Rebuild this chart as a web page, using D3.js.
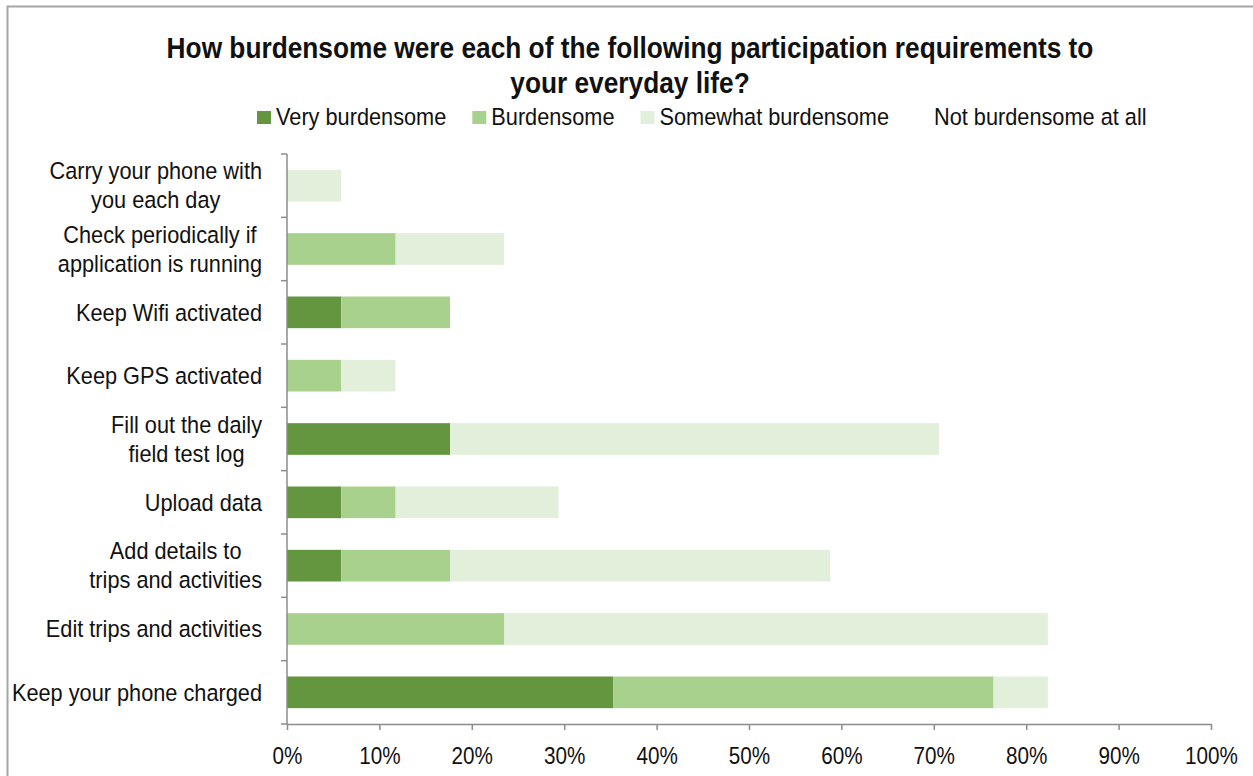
<!DOCTYPE html>
<html>
<head>
<meta charset="utf-8">
<script src="https://cdn.jsdelivr.net/npm/d3@7"></script>
<style>
  html, body { margin: 0; padding: 0; background: #fff; }
  svg { display: block; }
  text { font-family: "Liberation Sans", Arial, sans-serif; fill: #111; }
</style>
</head>
<body>
<svg id="chart" width="1253" height="776"></svg>
<script>
// Participation requirements, top to bottom
const categories = [
  "Carry your phone with\nyou each day",
  "Check periodically if\napplication is running",
  "Keep Wifi activated",
  "Keep GPS activated",
  "Fill out the daily\nfield test log",
  "Upload data",
  "Add details to\ntrips and activities",
  "Edit trips and activities",
  "Keep your phone charged"
];

const seriesNames = ["Very burdensome", "Burdensome", "Somewhat burdensome", "Not burdensome at all"];
const seriesColors = ["#63963f", "#a9d18e", "#e2efda", "#ffffff"];

// Share of respondents (%) per category
const veryBurdensome     = [0,     0,     5.88,  0,     17.65, 5.88,  5.88,  0,     35.29];
const burdensome         = [0,     11.76, 11.76, 5.88,  0,     5.88,  11.76, 23.53, 41.18];
const somewhatBurdensome = [5.88,  11.76, 0,     5.88,  52.94, 17.65, 41.18, 58.82, 5.88];
const notBurdensome      = [94.12, 76.48, 82.36, 88.24, 29.41, 70.59, 41.18, 17.65, 17.65];

const xTicks = [0, 10, 20, 30, 40, 50, 60, 70, 80, 90, 100];

const svg = d3.select("#chart");

// text in a horizontally squeezed group; returns {g, t, width}
function narrowText(parent, x, y, lines, size, anchor, sx, weight, lineH) {
  const g = parent.append("g").attr("transform", `translate(${x},${y}) scale(${sx},1)`);
  const t = g.append("text")
    .attr("text-anchor", anchor)
    .style("font-size", size + "px")
    .style("font-weight", weight || "normal");
  lines.forEach((ln, j) => {
    t.append("tspan").attr("x", 0)
      .attr("y", (j - (lines.length - 1) / 2) * (lineH || 0))
      .attr("dy", "0.35em").text(ln);
  });
  let maxW = 0;
  t.selectAll("tspan").each(function () { maxW = Math.max(maxW, this.getComputedTextLength()); });
  return { g, t, width: maxW * sx };
}

// outer frame
svg.append("rect")
  .attr("x", 7.5).attr("y", 6.5)
  .attr("width", 1260).attr("height", 800)
  .attr("fill", "none").attr("stroke", "#a6a6a6").attr("stroke-width", 2);

// title
narrowText(svg, 630, 47, ["How burdensome were each of the following participation requirements to"], 30, "middle", 0.876, "bold");
narrowText(svg, 630, 82, ["your everyday life?"], 30, "middle", 0.876, "bold");

// scales
const plot = { left: 287, right: 1211, top: 154, bottom: 724 };
const x = d3.scaleLinear().domain([0, 100]).range([plot.left, plot.right]);
const y = d3.scaleBand().domain(categories).range([plot.top, plot.bottom]).paddingInner(0.5).paddingOuter(0.25);

// stacked data
const rows = categories.map((c, i) => ({
  cat: c,
  s0: veryBurdensome[i], s1: burdensome[i], s2: somewhatBurdensome[i], s3: notBurdensome[i]
}));
const stack = d3.stack().keys(["s0", "s1", "s2", "s3"])(rows);

svg.append("g").selectAll("g")
  .data(stack)
  .join("g")
  .attr("fill", (d, i) => seriesColors[i])
  .selectAll("rect")
  .data(d => d.filter(p => p[1] - p[0] > 0))
  .join("rect")
  .attr("x", d => x(d[0]))
  .attr("width", d => x(d[1]) - x(d[0]))
  .attr("y", d => y(d.data.cat))
  .attr("height", y.bandwidth());

// x axis
const xAxis = svg.append("g")
  .attr("transform", `translate(0,${plot.bottom})`)
  .call(d3.axisBottom(x).tickValues(xTicks).tickFormat(d => d + "%").tickSize(6).tickSizeOuter(0));
xAxis.select(".domain").attr("stroke", "#8c8c8c").attr("stroke-width", 1.5);
xAxis.selectAll(".tick line").attr("stroke", "#8c8c8c").attr("stroke-width", 1.5);
xAxis.selectAll(".tick text").remove();
xAxis.selectAll(".tick").each(function (d) {
  narrowText(d3.select(this), 0, 32, [d + "%"], 23.5, "middle", 0.88);
});

// y axis line and category boundary ticks
const yAxisG = svg.append("g");
yAxisG.append("line")
  .attr("x1", plot.left).attr("x2", plot.left)
  .attr("y1", plot.top).attr("y2", plot.bottom)
  .attr("stroke", "#8c8c8c").attr("stroke-width", 1.5);
const boundaries = d3.range(categories.length + 1).map(i => plot.top + i * (plot.bottom - plot.top) / categories.length);
yAxisG.selectAll("line.tk")
  .data(boundaries)
  .join("line")
  .attr("class", "tk")
  .attr("x1", plot.left - 6).attr("x2", plot.left)
  .attr("y1", d => d).attr("y2", d => d)
  .attr("stroke", "#8c8c8c").attr("stroke-width", 1.5);

// category labels: lines centred among themselves, block right-aligned
const LABEL_SX = 0.925;
categories.forEach(c => {
  const lines = c.split("\n");
  const cy = y(c) + y.bandwidth() / 2;
  const lab = narrowText(svg, 0, cy, lines, 23.5, "middle", LABEL_SX, "normal", 29);
  lab.g.attr("transform", `translate(${262 - lab.width / 2},${cy}) scale(${LABEL_SX},1)`);
});

// legend
let lx = 257;
const ly = 117;
seriesNames.forEach((name, i) => {
  svg.append("rect")
    .attr("x", lx).attr("y", ly - 6)
    .attr("width", 14).attr("height", 13)
    .attr("fill", seriesColors[i]);
  const lab = narrowText(svg, lx + 19, ly, [name], 23.5, "start", 0.925);
  lx += 19 + lab.width + 26;
});
</script>
</body>
</html>
